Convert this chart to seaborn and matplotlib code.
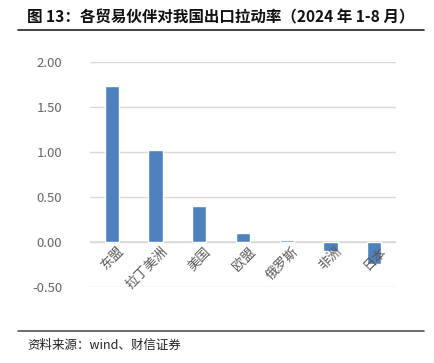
import matplotlib
matplotlib.use("Agg")
import matplotlib.pyplot as plt
import seaborn as sns
import pandas as pd
from matplotlib.lines import Line2D

categories = ["东盟", "拉丁美洲", "美国", "欧盟", "俄罗斯", "非洲", "日本"]
values = [1.73, 1.02, 0.40, 0.10, 0.02, -0.10, -0.24]
yticks = [-0.5, 0.0, 0.5, 1.0, 1.5, 2.0]

sns.set_theme(style="white")
plt.rcParams["font.family"] = ["Noto Sans CJK SC", "DejaVu Sans"]
plt.rcParams["axes.unicode_minus"] = False

df = pd.DataFrame({"cat": categories, "val": values})

fig = plt.figure(figsize=(4.34, 3.63), dpi=100)
ax = fig.add_axes([90 / 434, 1 - 287 / 363, 306 / 434, 225 / 363])

sns.barplot(data=df, x="cat", y="val", color="#4F81BD", width=0.33,
            saturation=1, ax=ax, zorder=3)

ax.set_xlim(-0.5, len(categories) - 0.5)
ax.set_ylim(-0.5, 2.0)
ax.set_yticks(yticks)
ax.set_yticklabels([f"{v:.2f}" for v in yticks], color="#666666", fontsize=9.5)
ax.yaxis.grid(True, color="#D9D9D9", linewidth=1, zorder=0)
ax.axhline(0, color="#D9D9D9", linewidth=1.2, zorder=1)
for s in ax.spines.values():
    s.set_visible(False)
ax.tick_params(axis="y", length=0, pad=20)
ax.tick_params(axis="x", length=0, pad=0)
ax.set_xlabel("")
ax.set_ylabel("")
ax.set_xticks(range(len(categories)))
ax.set_xticklabels([])
for i, c in enumerate(categories):
    ax.text(i + 0.12, -0.03, c, rotation=45, ha="right", va="top",
            fontsize=9.5, color="#595959", transform=ax.transData,
            rotation_mode="anchor")

fig.text(27 / 434, 1 - 17 / 363,
         "图 13：各贸易伙伴对我国出口拉动率（2024 年 1-8 月）",
         fontsize=11.2, fontweight="bold", ha="left", va="center", color="#111111")
fig.add_artist(Line2D([18 / 434, 424 / 434], [1 - 30 / 363, 1 - 30 / 363],
                      color="#222222", linewidth=1.2, transform=fig.transFigure))
fig.add_artist(Line2D([18 / 434, 424 / 434], [1 - 331 / 363, 1 - 331 / 363],
                      color="#555555", linewidth=1.2, transform=fig.transFigure))
fig.text(27 / 434, 1 - 345 / 363, "资料来源：wind、财信证券",
         fontsize=9, style="italic", ha="left", va="center", color="#222222")

fig.savefig("out.png", dpi=100)
